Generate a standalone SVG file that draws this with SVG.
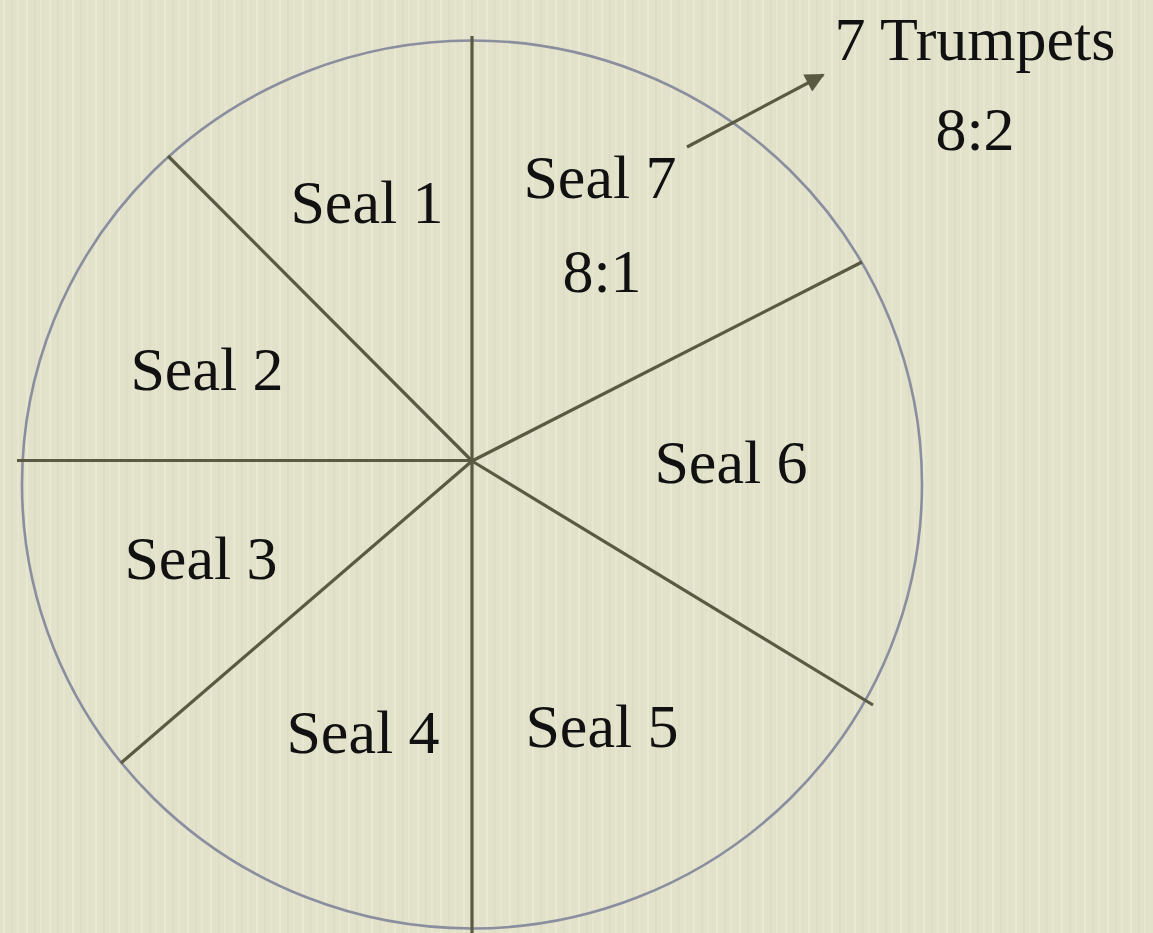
<svg xmlns="http://www.w3.org/2000/svg" width="1153" height="933" viewBox="0 0 1153 933">
<defs>
<style>
.lbl{font-family:"Liberation Serif","DejaVu Serif",serif;font-size:62px;fill:#111;text-anchor:middle}
.spoke{stroke:#5a5942;stroke-width:3.2;stroke-linecap:butt}
.rim{fill:none;stroke:#8a8e9e;stroke-width:2.6}
</style>
<pattern id="tex" width="23" height="933" patternUnits="userSpaceOnUse">
<rect width="23" height="933" fill="#e2e1ca"/>
<rect x="3" width="2" height="933" fill="#eeeddb" opacity="0.6"/>
<rect x="11" width="1.5" height="933" fill="#d6d5be" opacity="0.5"/>
<rect x="17" width="2" height="933" fill="#ebead6" opacity="0.5"/>
</pattern>
<marker id="ah" viewBox="0 0 10 10" refX="9" refY="5" markerWidth="7" markerHeight="6" orient="auto" markerUnits="strokeWidth">
<path d="M0,0 L10,5 L0,10 z" fill="#5a5942"/>
</marker>
</defs>
<rect width="1153" height="933" fill="url(#tex)"/>
<g id="wheel">
<ellipse class="rim" cx="472" cy="484.5" rx="450" ry="444"/>
</g>
<g id="connectors">
<line class="spoke" x1="472" y1="36" x2="472" y2="933"/>
<line class="spoke" x1="17" y1="460.5" x2="472" y2="460.5"/>
<line class="spoke" x1="168" y1="156" x2="472" y2="461"/>
<line class="spoke" x1="862" y1="262" x2="472" y2="461"/>
<line class="spoke" x1="873" y1="705" x2="472" y2="461"/>
<line class="spoke" x1="121" y1="763" x2="472" y2="461"/>
<line class="spoke" x1="687" y1="147" x2="823" y2="75" marker-end="url(#ah)"/>
</g>
<g id="seal1"><text class="lbl" x="367" y="223">Seal 1</text></g>
<g id="seal7"><text class="lbl" x="600" y="198">Seal 7</text><text class="lbl" x="602" y="292">8:1</text></g>
<g id="trumpets"><text class="lbl" x="975" y="60" font-size="67">7 Trumpets</text><text class="lbl" x="975" y="150">8:2</text></g>
<g id="seal2"><text class="lbl" x="207" y="390">Seal 2</text></g>
<g id="seal6"><text class="lbl" x="731" y="483">Seal 6</text></g>
<g id="seal3"><text class="lbl" x="201" y="579">Seal 3</text></g>
<g id="seal4"><text class="lbl" x="363" y="753">Seal 4</text></g>
<g id="seal5"><text class="lbl" x="602" y="747">Seal 5</text></g>
</svg>
